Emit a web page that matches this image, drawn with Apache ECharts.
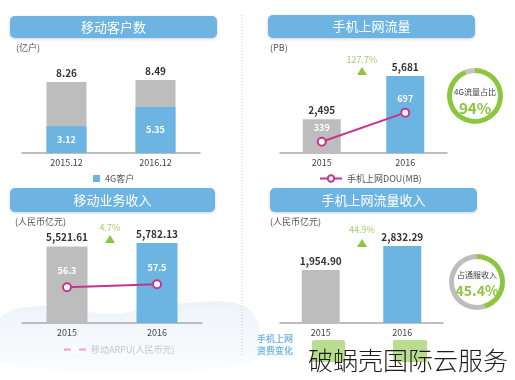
<!DOCTYPE html>
<html><head><meta charset="utf-8">
<script src="https://cdn.jsdelivr.net/npm/echarts@6/dist/echarts.min.js"></script>
<style>html,body{margin:0;padding:0;background:#fff}#c{width:515px;height:380px}</style>
</head><body><div id="c"></div>
<script>
// ---- data ----
const userCats = ['2015.12', '2016.12'];
const totalUsers = [8.26, 8.49];
const users4G = [3.12, 5.35];
const years = ['2015', '2016'];
const trafficPB = [2495, 5681];
const douMB = [339, 697];
const trafficGrowth = '127.7%';
const share4G = [94, 6];
const serviceRevenue = [5521.61, 5782.13];
const arpu = [56.3, 57.5];
const revenueGrowth = '4.7%';
const dataRevenue = [1954.90, 2832.29];
const dataRevenueGrowth = '44.9%';
const dataRevenueShare = [45.4, 54.6];
const titles = ['移动客户数', '手机上网流量', '移动业务收入', '手机上网流量收入'];

const GRAY = '#bdbdbd', BLUE = '#6cb5e3', GREEN = '#8cc63f', MAG = '#c6358c';
const FONT = '"Noto Sans CJK SC", "Noto Sans", sans-serif';
const yearColors = [GRAY, BLUE];

const fmt = (v, d) => v.toLocaleString('en-US', {minimumFractionDigits: d, maximumFractionDigits: d});

const chart = echarts.init(document.getElementById('c'));

function xAx(grid, data) {
  return {type: 'category', gridIndex: grid, data: data,
    axisTick: {show: false},
    axisLine: {lineStyle: {color: '#a9a9a9', width: 1.5}},
    axisLabel: {color: '#444', fontSize: 9, margin: 5, fontFamily: FONT}};
}
function yAx(grid, min, max) {
  return {type: 'value', gridIndex: grid, min: min, max: max, show: false, splitLine: {show: false}};
}
const topLabel = (d) => ({show: true, position: 'top', distance: 4, color: '#333', fontSize: 10,
  fontWeight: 'bold', fontFamily: FONT, formatter: p => fmt(p.value, d)});

function header(x, y, w, h, t) {
  return [
    {type: 'rect', shape: {x: x, y: y, width: w, height: h, r: 5},
      style: {fill: '#6db4e2', shadowBlur: 3, shadowColor: 'rgba(0,0,0,0.18)', shadowOffsetY: 1}},
    {type: 'text', style: {x: x + w / 2, y: y + h / 2, text: t, fill: '#fff', fontSize: 13,
      fontFamily: FONT, textAlign: 'center', textVerticalAlign: 'middle'}}
  ];
}
function txt(x, y, t, opt) {
  return {type: 'text', style: Object.assign({x: x, y: y, text: t, fill: '#555', fontSize: 9,
    fontFamily: FONT, textAlign: 'left', textVerticalAlign: 'middle'}, opt || {})};
}
function tri(x, y) {
  return {type: 'polygon', shape: {points: [[x, y - 4], [x - 5, y + 4], [x + 5, y + 4]]}, style: {fill: GREEN}};
}

const graphics = [
  // faint background wave
  {type: 'polygon', z: -10, shape: {smooth: 0.4, points: [[0, 318], [50, 306], [110, 314], [170, 304], [250, 310], [250, 362], [0, 362]]},
    style: {fill: new echarts.graphic.LinearGradient(0, 0, 0, 1, [{offset: 0, color: 'rgba(220,233,244,0.55)'}, {offset: 1, color: 'rgba(238,244,250,0.25)'}])}},
  {type: 'line', shape: {x1: 242, y1: 15, x2: 242, y2: 355}, style: {stroke: '#c8c8c8', lineWidth: 1, lineDash: [1, 2]}},
  ...header(10, 16, 207, 22, titles[0]),
  ...header(268, 15, 207, 23, titles[1]),
  ...header(10, 188, 205, 24, titles[2]),
  ...header(270, 188, 207, 24, titles[3]),
  txt(16, 48, '(亿户)'),
  txt(270, 48, '(PB)'),
  txt(15, 222, '(人民币亿元)'),
  txt(270, 222, '(人民币亿元)'),
  txt(362, 60, trafficGrowth, {fill: '#a6cf6b', textAlign: 'center'}),
  tri(362, 71),
  txt(110, 228, revenueGrowth, {fill: '#a6cf6b', textAlign: 'center'}),
  tri(110, 239),
  txt(362, 230, dataRevenueGrowth, {fill: '#a6cf6b', textAlign: 'center'}),
  tri(362, 243),
  txt(475, 92, '4G流量占比', {fill: '#444', textAlign: 'center', fontSize: 8}),
  txt(475, 108, share4G[0] + '%', {fill: GREEN, textAlign: 'center', fontSize: 15, fontWeight: 'bold'}),
  txt(477, 275, '占通服收入', {fill: '#444', textAlign: 'center', fontSize: 8}),
  txt(477, 291, dataRevenueShare[0] + '%', {fill: GREEN, textAlign: 'center', fontSize: 14, fontWeight: 'bold'}),
  txt(257, 339, '手机上网', {fill: '#7bbbe4', fontSize: 9, fontWeight: 'bold'}),
  txt(257, 351, '资费变化', {fill: '#7bbbe4', fontSize: 9, fontWeight: 'bold'}),
  {type: 'rect', shape: {x: 312, y: 340, width: 33, height: 22, r: 2}, style: {fill: '#b9dc8f'}},
  {type: 'rect', shape: {x: 393, y: 340, width: 34, height: 22, r: 2}, style: {fill: '#b9dc8f'}},
  txt(308, 360, '破蜗壳国际云服务', {fill: '#1c1c1c', fontSize: 25, fontWeight: 300}),
];

const option = {
  animation: false,
  backgroundColor: '#fff',
  textStyle: {fontFamily: FONT},
  grid: [
    {left: 22, width: 178, top: 67, height: 86},
    {left: 280, width: 167, top: 58, height: 95},
    {left: 22, width: 180, top: 226, height: 97},
    {left: 280, width: 163, top: 228, height: 95}
  ],
  xAxis: [xAx(0, userCats), xAx(1, years), xAx(2, years), xAx(3, years)],
  yAxis: [yAx(0, 0, 10), yAx(1, 0, 7000), yAx(1, 200, 1370), yAx(2, 0, 7000), yAx(2, 42, 80.8), yAx(3, 0, 3500)],
  legend: [
    {data: ['4G客户'], left: 88, top: 169, icon: 'rect', itemWidth: 7, itemHeight: 7, itemGap: 4,
      textStyle: {fontSize: 9, color: '#555'}},
    {data: ['手机上网DOU(MB)'], left: 314, top: 169, itemWidth: 22, itemHeight: 8,
      textStyle: {fontSize: 9, color: '#555'}},
    {data: ['移动ARPU(人民币元)'], left: 58, top: 340, itemWidth: 22, itemHeight: 8,
      itemStyle: {color: '#fff', borderColor: '#ee9fcf', borderWidth: 2}, lineStyle: {color: '#ee9fcf', width: 2},
      textStyle: {fontSize: 9, color: '#c5c5c5'}}
  ],
  series: [
    {name: '客户总数', type: 'bar', xAxisIndex: 0, yAxisIndex: 0, data: totalUsers, barWidth: 40, barGap: '-100%',
      itemStyle: {color: GRAY}, label: topLabel(2), silent: true},
    {name: '4G客户', type: 'bar', xAxisIndex: 0, yAxisIndex: 0, data: users4G, barWidth: 40, barGap: '-100%',
      itemStyle: {color: BLUE},
      label: {show: true, position: 'inside', color: '#fff', fontSize: 9, fontWeight: 'bold'}},
    {name: '流量', type: 'bar', xAxisIndex: 1, yAxisIndex: 1, barWidth: 38,
      data: trafficPB.map((v, i) => ({value: v, itemStyle: {color: yearColors[i]}})), label: topLabel(0)},
    {name: '手机上网DOU(MB)', type: 'line', xAxisIndex: 1, yAxisIndex: 2, data: douMB,
      symbol: 'emptyCircle', symbolSize: 8, lineStyle: {color: MAG, width: 2},
      itemStyle: {color: MAG, borderWidth: 2},
      label: {show: true, position: 'top', distance: 5, color: '#fff', fontSize: 9, fontWeight: 'bold'}},
    {name: '移动业务收入', type: 'bar', xAxisIndex: 2, yAxisIndex: 3, barWidth: 41,
      data: serviceRevenue.map((v, i) => ({value: v, itemStyle: {color: yearColors[i]}})), label: topLabel(2)},
    {name: '移动ARPU(人民币元)', type: 'line', xAxisIndex: 2, yAxisIndex: 4, data: arpu,
      symbol: 'emptyCircle', symbolSize: 8, lineStyle: {color: MAG, width: 2},
      itemStyle: {color: MAG, borderWidth: 2},
      label: {show: true, position: 'top', distance: 7, color: '#fff', fontSize: 9, fontWeight: 'bold'}},
    {name: '流量收入', type: 'bar', xAxisIndex: 3, yAxisIndex: 5, barWidth: 38,
      data: dataRevenue.map((v, i) => ({value: v, itemStyle: {color: yearColors[i]}})), label: topLabel(2)},
    {type: 'pie', center: [475, 96], radius: [23, 28], startAngle: 90, silent: true, label: {show: false},
      data: share4G.map((v, i) => ({value: v, itemStyle: {color: [GREEN, '#c4c4c4'][i]}}))},
    {type: 'pie', center: [477, 282], radius: [23, 28], startAngle: 90, silent: true, label: {show: false},
      data: dataRevenueShare.map((v, i) => ({value: v, itemStyle: {color: [GREEN, '#bdbdbd'][i]}}))}
  ],
  graphic: graphics
};
chart.setOption(option);
</script></body></html>
